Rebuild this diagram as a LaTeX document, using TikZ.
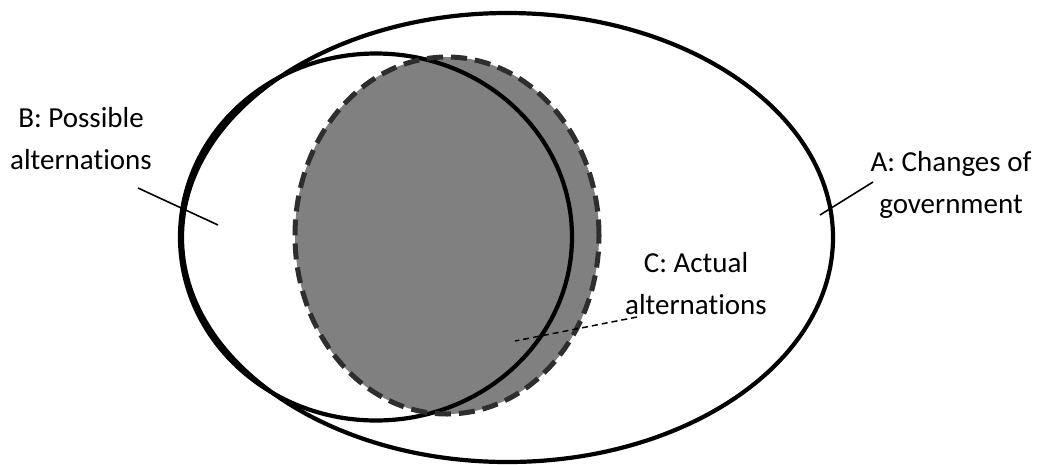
\documentclass[tikz,border=0pt]{standalone}
\usepackage{fontspec}
\setmainfont[Ligatures={NoCommon}]{Carlito}
\usetikzlibrary{shapes.geometric}
\definecolor{cfill}{HTML}{808080}
\definecolor{cdash}{HTML}{2E2E2E}
\tikzset{
  setline/.style={draw=black, line width=4.2pt},
  labeltext/.style={align=center, font=\fontsize{29}{42}\selectfont, inner sep=0pt},
  pointer/.style={draw=black, line width=1.6pt},
  dpointer/.style={draw=black, line width=1.5pt, dash pattern=on 6pt off 4pt}
}
\begin{document}
\begin{tikzpicture}[x=1pt, y=-1pt]
\useasboundingbox[fill=white] (0,0) rectangle (1038,464);
% A: changes of government
\node[ellipse, setline, minimum width=651pt, minimum height=449pt, inner sep=0pt] (A) at (507.5,237.5) {};
% C: actual alternations (filled)
\node[ellipse, fill=cfill, minimum width=304pt, minimum height=357pt, inner sep=0pt] (Cfill) at (447,235.5) {};
% B: possible alternations
\node[ellipse, setline, minimum width=392pt, minimum height=367pt, inner sep=0pt] (B) at (376,237) {};
% C dashed border
\node[ellipse, draw=cdash, line width=5pt, dash pattern=on 16pt off 8pt, minimum width=304pt, minimum height=357pt, inner sep=0pt] (C) at (447,235.5) {};
% labels
\node[labeltext] (Blab) at (81,139) {B: Possible\\alternations};
\node[labeltext] (Alab) at (951,185) {A: Changes of\\government};
\node[labeltext] (Clab) at (696,284) {C: Actual\\alternations};
% pointers
\coordinate (Bs) at (138,188);
\coordinate (Be) at (218,225);
\coordinate (As) at (873,182);
\coordinate (Ae) at (820,215);
\coordinate (Cs) at (637,317);
\coordinate (Ce) at (515,341);
\draw[pointer] (Bs) -- (Be);
\draw[pointer] (As) -- (Ae);
\draw[dpointer] (Cs) -- (Ce);
\end{tikzpicture}
\end{document}
